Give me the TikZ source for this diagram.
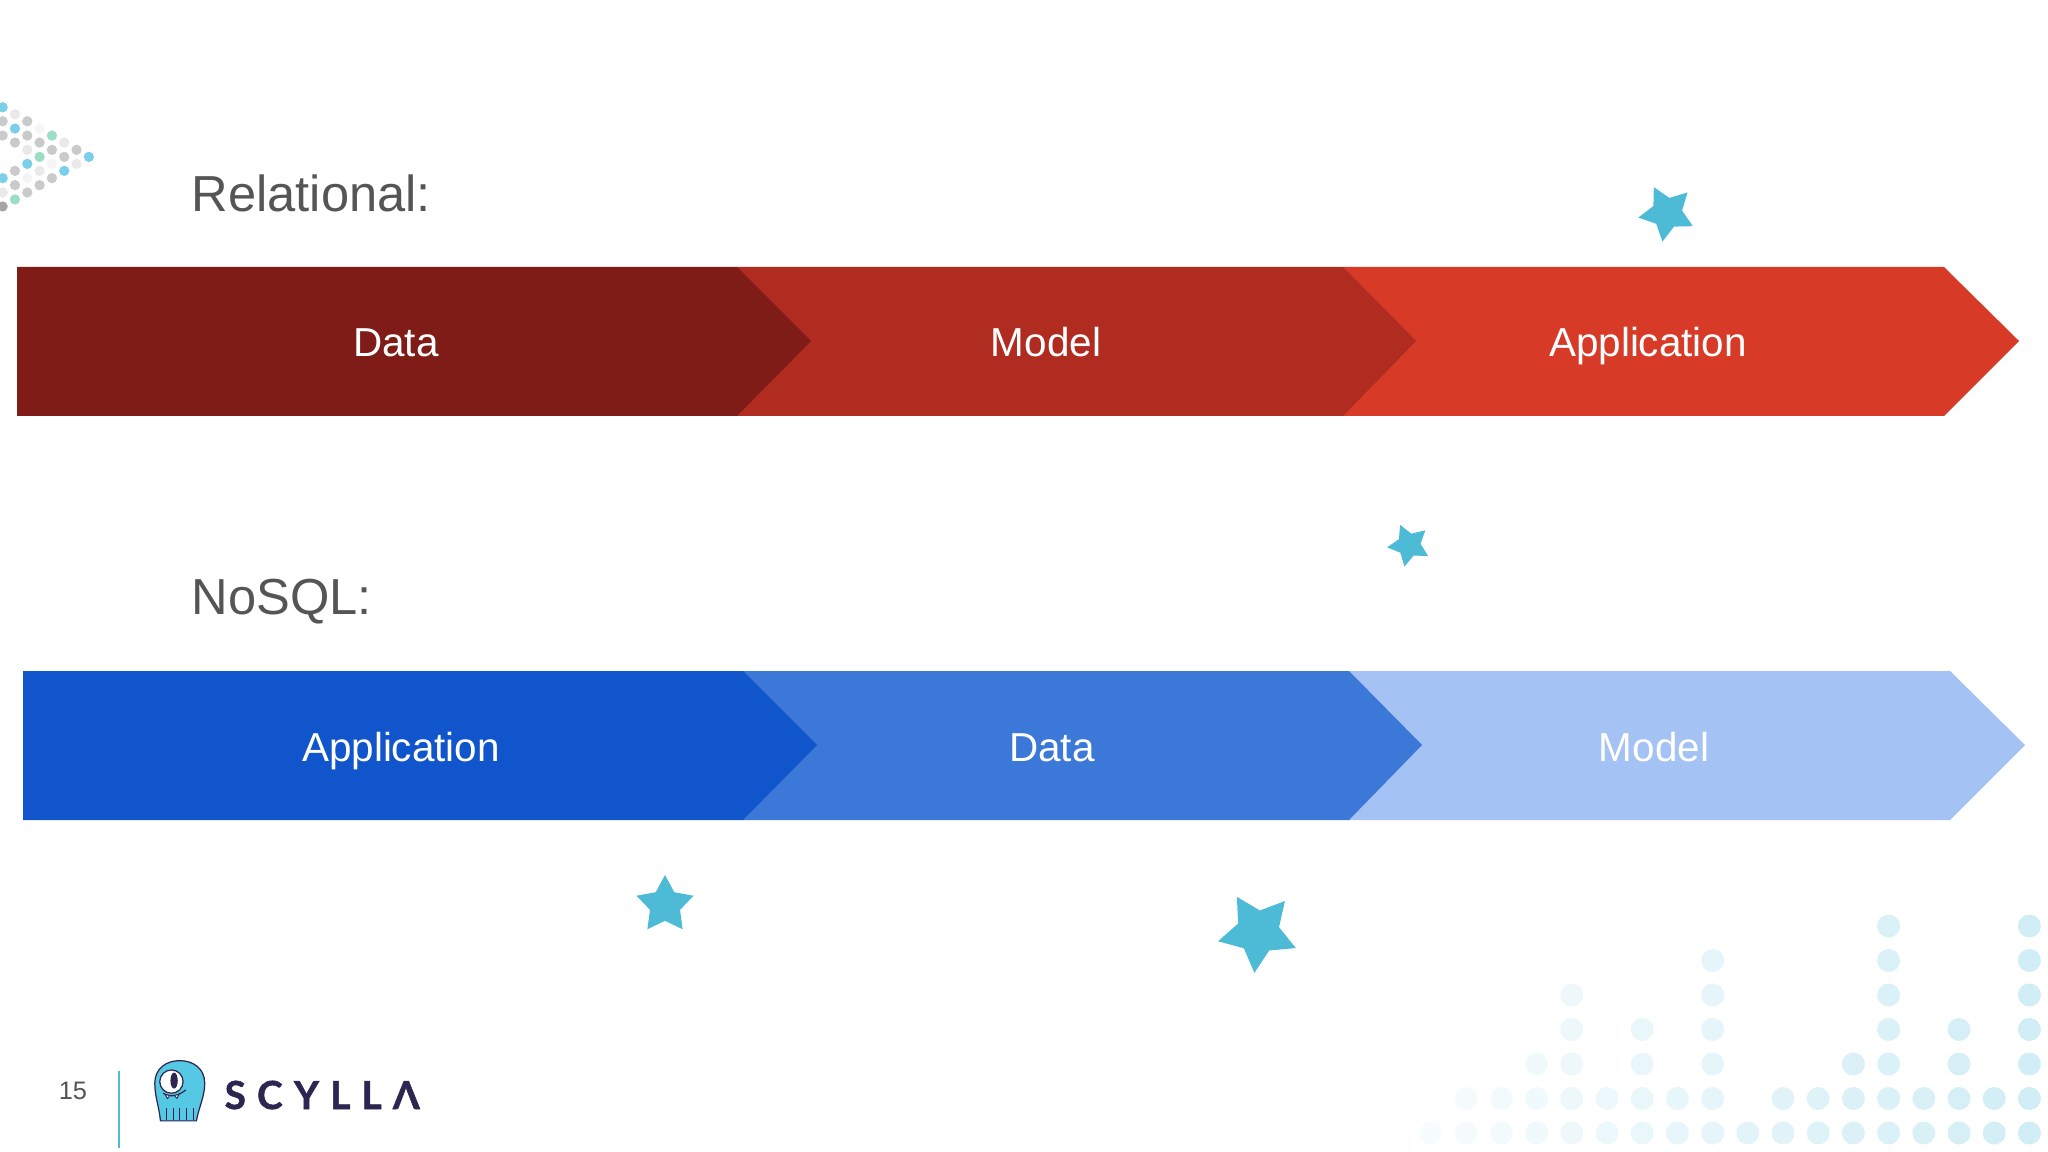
\documentclass[tikz,border=0pt]{standalone}
\usepackage{fontspec}
\usepackage{tikz}
\usetikzlibrary{shapes.geometric}
\setmainfont{Liberation Sans}
\newfontfamily\brandfont[LetterSpace=29,FakeBold=1.4]{Lato}

\definecolor{redone}{HTML}{801C17}
\definecolor{redtwo}{HTML}{B02B20}
\definecolor{redthree}{HTML}{D83A28}
\definecolor{blueone}{HTML}{1155CC}
\definecolor{bluetwo}{HTML}{3C78D8}
\definecolor{bluethree}{HTML}{A4C2F4}
\definecolor{heading}{HTML}{555555}
\definecolor{starblue}{HTML}{4DBAD6}
\definecolor{octoblue}{HTML}{55C8E4}
\definecolor{inkdark}{HTML}{2D2650}
\definecolor{dotgray}{HTML}{CACACA}
\definecolor{dotblue}{HTML}{7CCFE8}
\definecolor{dotgreen}{HTML}{9ADFC4}
\definecolor{dotpale}{HTML}{E9E9E9}
\definecolor{dotlight}{HTML}{F5F5F5}
\definecolor{fadeblue}{HTML}{9AD8E8}

\begin{document}
\begin{tikzpicture}
  [x=0.01cm,y=-0.01cm,
   title/.style={anchor=base west,inner sep=0,text=heading,font=\fontsize{14.4}{16}\selectfont},
   label/.style={anchor=base,inner sep=0,text=white,font=\fontsize{11.5}{14}\selectfont},
   spark/.style={star,star points=5,star point ratio=1.9,fill=starblue,inner sep=0}]

  \useasboundingbox (0,0) rectangle (2048,1152);

  % top left dots
  \begin{scope}[shift={(0,80)},x=0.00333cm,y=-0.00333cm]
    \foreach \dx/\dy/\dc in {8/82/dotblue,8/124/dotgray,8/167/dotgray,8/295/dotblue,8/338/dotpale,8/380/gray!70,
      45/103/dotpale,45/146/dotblue,45/188/dotgray,45/273/dotgray,45/316/dotgray,45/359/dotgreen,
      82/124/dotgray,82/167/dotgray,82/210/dotpale,82/252/dotblue,82/295/dotlight,82/338/dotgray,
      119/146/dotlight,119/188/dotgray,119/231/dotgreen,119/273/dotpale,119/316/dotgray,
      156/167/dotgreen,156/210/dotgray,156/252/dotlight,156/295/dotgray,
      193/188/dotpale,193/231/dotgray,193/273/dotblue,
      230/210/dotgray,230/252/dotpale,
      267/231/dotblue}
      \fill[\dc] (\dx,\dy) circle (15.5);
  \end{scope}

  % bottom right dots
  \foreach \col/\high in {0/0,1/1,2/1,3/2,4/4,5/1,6/3,7/1,8/5,9/0,10/1,11/1,12/2,13/6,14/1,15/3,16/1,17/6}
    \foreach \row in {0,...,\high} {
      \pgfmathsetmacro{\tint}{8+2.2*\col}
      \fill[fadeblue!\tint!white] (1431+35.2*\col,1133-34.5*\row) circle (11.5);
    }

  \node[title] (relational) at (191,212) {Relational:};
  \node[title] (nosql) at (191,614) {NoSQL:};

  % relational arrows, right one first
  \fill[redthree] (1343,267) -- (1944,267) -- (2019,341) -- (1944,416) -- (1343,416) -- cycle;
  \fill[redtwo] (737,267) -- (1343,267) -- (1416,341) -- (1343,416) -- (737,416) -- cycle;
  \fill[redone] (17,267) -- (737,267) -- (811,341) -- (737,416) -- (17,416) -- cycle;

  % nosql arrows
  \fill[bluethree] (1349,671) -- (1950,671) -- (2025,745) -- (1950,820) -- (1349,820) -- cycle;
  \fill[bluetwo] (743,671) -- (1349,671) -- (1422,745) -- (1349,820) -- (743,820) -- cycle;
  \fill[blueone] (23,671) -- (743,671) -- (817,745) -- (743,820) -- (23,820) -- cycle;

  \node[label] (rdata) at (396,357) {Data};
  \node[label] (rmodel) at (1046,357) {Model};
  \node[label] (rapp) at (1648,357) {Application};
  \node[label] (napp) at (401,761) {Application};
  \node[label] (ndata) at (1052,761) {Data};
  \node[label] (nmodel) at (1654,761) {Model};

  \node[spark,minimum size=0.58cm,rotate=27] (star1) at (1667,213) {};
  \node[spark,minimum size=0.44cm,rotate=24] (star2) at (1409,545) {};
  \node[spark,minimum size=0.60cm] (star3) at (665,905) {};
  \node[spark,minimum size=0.82cm,rotate=31] (star4) at (1258,932) {};

  % footer
  \node[inner sep=0,text=heading,font=\fontsize{7.2}{9}\selectfont] (page) at (73,1091) {15};
  \draw[starblue,line width=0.6pt] (119,1071) -- (119,1148);

  % mascot
  \begin{scope}[shift={(30,1040)},x=0.00333cm,y=-0.00333cm]
    \draw[fill=octoblue,draw=inkdark,line width=0.35pt]
      (392,243) .. controls (388,200) and (375,170) .. (375,130)
      .. controls (375,85) and (410,62) .. (450,62)
      .. controls (490,62) and (525,85) .. (525,130)
      .. controls (525,170) and (508,200) .. (500,243) -- cycle;
    \draw[fill=white,draw=inkdark,line width=0.35pt] (425,125) circle (35);
    \fill[inkdark] (433,122) ellipse (11 and 24);
    \draw[inkdark,line width=0.35pt] (400,160) .. controls (425,175) and (450,165) .. (468,150);
    \draw[fill=white,draw=inkdark,line width=0.25pt] (406,164) -- (420,167) -- (413,176) -- cycle;
    \draw[fill=white,draw=inkdark,line width=0.25pt] (434,167) -- (448,163) -- (442,175) -- cycle;
    \foreach \lx in {410,430,450,470,490}
      \draw[inkdark,line width=0.3pt] (\lx,205) -- (\lx,240);
  \end{scope}

  \node[anchor=base west,inner sep=0,text=inkdark,font=\brandfont\bfseries\fontsize{11}{13}\selectfont] (brand) at (224,1109) {SCYLLΛ};
\end{tikzpicture}
\end{document}
